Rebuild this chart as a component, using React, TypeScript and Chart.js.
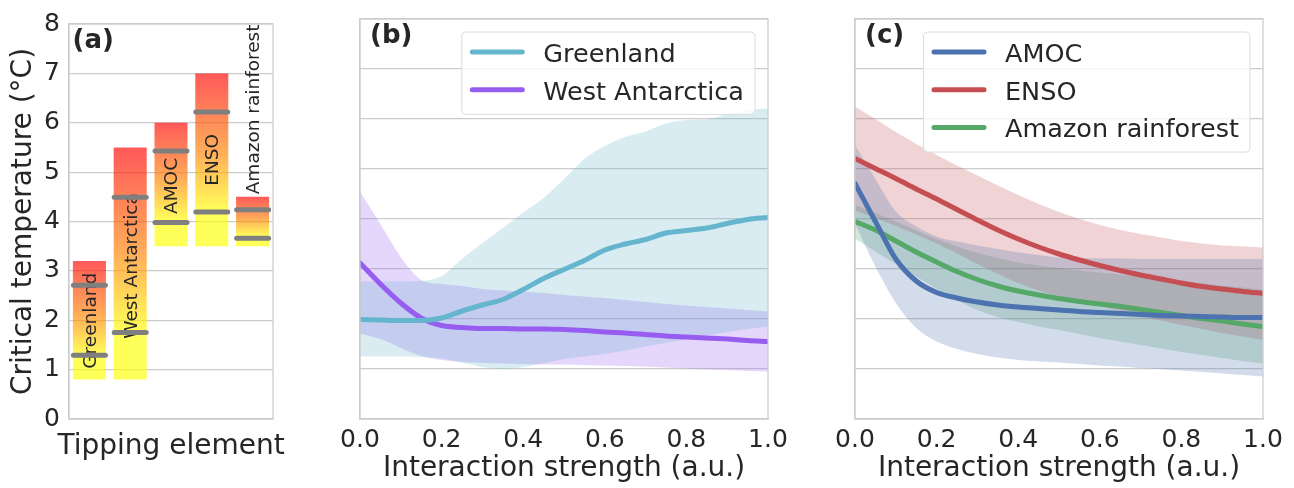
import React, { useEffect, useRef } from 'react';
import { Chart, registerables } from 'chart.js';

Chart.register(...registerables);

const FONT = "'DejaVu Sans', 'Noto Sans', sans-serif";
const TEXT = '#262626';
const GRID = '#cccccc';

// ---------------- Panel (a): critical temperature ranges ----------------
const tippingElements = ['Greenland', 'West Antarctica', 'AMOC', 'ENSO', 'Amazon rainforest'];
const rangeLow = [0.8, 0.8, 3.5, 3.5, 3.5];
const rangeHigh = [3.2, 5.5, 6.0, 7.0, 4.5];
const thresholdLow = [1.29, 1.75, 3.98, 4.19, 3.66];
const thresholdHigh = [2.71, 4.49, 5.43, 6.22, 4.24];
const namePosition = [1.99, 3.1, 4.72, 5.25, 6.27];
const panelAxisTitle = 'Tipping element';

// ---------------- Panels (b) and (c): interaction strength ----------------
const strength = [0, 0.05, 0.1, 0.15, 0.2, 0.25, 0.3, 0.35, 0.4, 0.45, 0.5, 0.55, 0.6, 0.65, 0.7, 0.75, 0.8, 0.85, 0.9, 0.95, 1.0];

const greenlandMean = [1.99, 1.98, 1.97, 1.97, 2.02, 2.16, 2.28, 2.39, 2.59, 2.81, 2.99, 3.17, 3.38, 3.5, 3.59, 3.72, 3.77, 3.82, 3.91, 3.99, 4.03];
const greenlandUpper = [2.75, 2.75, 2.75, 2.76, 2.86, 3.2, 3.52, 3.82, 4.13, 4.42, 4.8, 5.2, 5.46, 5.64, 5.75, 5.91, 5.98, 5.99, 6.1, 6.18, 6.21];
const greenlandLower = [1.25, 1.25, 1.25, 1.24, 1.21, 1.13, 1.04, 1.0, 1.04, 1.12, 1.2, 1.25, 1.3, 1.37, 1.45, 1.52, 1.6, 1.67, 1.74, 1.8, 1.85];

const westAntarcticaMean = [3.12, 2.7, 2.32, 2.02, 1.87, 1.83, 1.81, 1.81, 1.8, 1.8, 1.79, 1.77, 1.74, 1.72, 1.69, 1.66, 1.64, 1.62, 1.6, 1.57, 1.55];
const westAntarcticaUpper = [4.55, 3.9, 3.24, 2.78, 2.7, 2.66, 2.6, 2.57, 2.55, 2.52, 2.48, 2.45, 2.42, 2.38, 2.34, 2.3, 2.27, 2.24, 2.21, 2.18, 2.15];
const westAntarcticaLower = [1.71, 1.6, 1.42, 1.26, 1.18, 1.14, 1.12, 1.11, 1.1, 1.09, 1.09, 1.08, 1.07, 1.06, 1.05, 1.03, 1.01, 0.99, 0.98, 0.96, 0.95];

const amocMean = [4.71, 3.95, 3.2, 2.76, 2.53, 2.42, 2.34, 2.28, 2.24, 2.21, 2.18, 2.15, 2.13, 2.11, 2.09, 2.07, 2.06, 2.05, 2.04, 2.03, 2.03];
const amocUpper = [5.48, 4.8, 4.15, 3.85, 3.65, 3.55, 3.47, 3.4, 3.33, 3.28, 3.23, 3.22, 3.21, 3.21, 3.2, 3.2, 3.2, 3.2, 3.2, 3.2, 3.2];
const amocLower = [3.9, 3.05, 2.32, 1.82, 1.55, 1.4, 1.3, 1.23, 1.18, 1.15, 1.13, 1.1, 1.07, 1.05, 1.02, 1.0, 0.97, 0.94, 0.91, 0.88, 0.85];

const ensoMean = [5.21, 5.01, 4.81, 4.6, 4.4, 4.19, 3.98, 3.78, 3.6, 3.44, 3.3, 3.18, 3.07, 2.97, 2.88, 2.8, 2.72, 2.65, 2.6, 2.55, 2.51];
const ensoUpper = [6.25, 6.0, 5.74, 5.5, 5.28, 5.07, 4.87, 4.67, 4.48, 4.3, 4.14, 4.0, 3.88, 3.78, 3.7, 3.63, 3.56, 3.51, 3.47, 3.45, 3.43];
const ensoLower = [4.17, 4.02, 3.86, 3.69, 3.51, 3.31, 3.1, 2.9, 2.72, 2.57, 2.46, 2.36, 2.26, 2.16, 2.06, 1.97, 1.88, 1.8, 1.72, 1.65, 1.58];

const amazonMean = [3.95, 3.78, 3.56, 3.34, 3.14, 2.95, 2.79, 2.66, 2.56, 2.48, 2.41, 2.35, 2.3, 2.25, 2.19, 2.13, 2.07, 2.01, 1.96, 1.9, 1.85];
const amazonUpper = [4.28, 4.12, 3.95, 3.77, 3.6, 3.45, 3.32, 3.22, 3.13, 3.07, 3.02, 2.97, 2.93, 2.89, 2.85, 2.8, 2.76, 2.72, 2.67, 2.63, 2.59];
const amazonLower = [3.61, 3.35, 3.1, 2.85, 2.6, 2.38, 2.18, 2.04, 1.94, 1.85, 1.78, 1.7, 1.62, 1.55, 1.48, 1.41, 1.34, 1.28, 1.22, 1.16, 1.11];

const TEMP_MIN = 0;
const TEMP_MAX = 8;

// ---------------- helpers ----------------
const pts = (ys: number[]) => ys.map((y, i) => ({ x: strength[i], y }));

function band(upper: number[], lower: number[], rgb: string) {
  return [
    {
      data: pts(upper),
      fill: '+1',
      backgroundColor: `rgba(${rgb},0.25)`,
      borderColor: 'rgba(0,0,0,0)',
      borderWidth: 0,
      pointRadius: 0,
      cubicInterpolationMode: 'monotone',
      order: 2,
      isBand: true,
    },
    {
      data: pts(lower),
      fill: false,
      borderColor: 'rgba(0,0,0,0)',
      borderWidth: 0,
      pointRadius: 0,
      cubicInterpolationMode: 'monotone',
      order: 2,
      isBand: true,
    },
  ];
}

function meanLine(label: string, ys: number[], color: string) {
  return {
    label,
    data: pts(ys),
    borderColor: color,
    backgroundColor: color,
    borderWidth: 5,
    pointRadius: 0,
    fill: false,
    cubicInterpolationMode: 'monotone',
    borderCapStyle: 'round',
    borderJoinStyle: 'round',
    order: 1,
  };
}

const framePlugin = {
  id: 'frame',
  afterDatasetsDraw(chart: any) {
    const { ctx, chartArea: a } = chart;
    ctx.save();
    ctx.strokeStyle = GRID;
    ctx.lineWidth = 1.25;
    ctx.strokeRect(a.left, a.top, a.right - a.left, a.bottom - a.top);
    ctx.restore();
  },
};

function panelLabel(text: string, dx: number) {
  return {
    id: 'panelLabel',
    afterDraw(chart: any) {
      const { ctx, chartArea: a } = chart;
      ctx.save();
      ctx.font = `bold 26px ${FONT}`;
      ctx.fillStyle = TEXT;
      ctx.textAlign = 'left';
      ctx.textBaseline = 'alphabetic';
      ctx.fillText(text, a.left + dx, a.top + 24);
      ctx.restore();
    },
  };
}

// x-axis title of panel (a): wider than its axis, so Chart.js would squeeze it
const wideBottomTitle = {
  id: 'wideBottomTitle',
  afterDraw(chart: any) {
    const { ctx, chartArea: a } = chart;
    ctx.save();
    ctx.font = `28px ${FONT}`;
    ctx.fillStyle = TEXT;
    ctx.textAlign = 'center';
    ctx.textBaseline = 'alphabetic';
    ctx.fillText(panelAxisTitle, (a.left + a.right) / 2, a.bottom + 35);
    ctx.restore();
  },
};

const boxedLegend = {
  id: 'boxedLegend',
  afterDraw(chart: any) {
    const { ctx, chartArea: a } = chart;
    const items = chart.data.datasets.filter((d: any) => d.label && !d.isBand);
    ctx.save();
    ctx.font = `25.5px ${FONT}`;
    const textW = Math.max(...items.map((d: any) => ctx.measureText(d.label).width));
    const padL = 8;
    const lineLen = 55;
    const gap = 18.5;
    const padR = 11;
    const rowH = 37.7;
    const w = padL + lineLen + gap + textW + padR;
    const h = items.length * rowH + 7;
    const right = a.right - 13;
    const left = right - w;
    const top = a.top + 13;
    ctx.beginPath();
    if (ctx.roundRect) ctx.roundRect(left, top, w, h, 4);
    else ctx.rect(left, top, w, h);
    ctx.fillStyle = 'rgba(255,255,255,0.8)';
    ctx.fill();
    ctx.strokeStyle = '#dcdcdc';
    ctx.lineWidth = 1;
    ctx.stroke();
    items.forEach((d: any, i: number) => {
      const cy = top + 20 + i * rowH;
      ctx.beginPath();
      ctx.moveTo(left + padL + 2.5, cy);
      ctx.lineTo(left + padL + lineLen - 2.5, cy);
      ctx.strokeStyle = d.borderColor;
      ctx.lineWidth = 5;
      ctx.lineCap = 'round';
      ctx.stroke();
      ctx.fillStyle = TEXT;
      ctx.textAlign = 'left';
      ctx.textBaseline = 'alphabetic';
      ctx.fillText(d.label, left + padL + lineLen + gap, cy + 10);
    });
    ctx.restore();
  },
};

const barNames = {
  id: 'barNames',
  afterDatasetDraw(chart: any, args: any) {
    if (args.meta.type !== 'bar') return;
    const { ctx, scales } = chart;
    ctx.save();
    ctx.font = `18.5px ${FONT}`;
    ctx.fillStyle = TEXT;
    ctx.textAlign = 'center';
    ctx.textBaseline = 'middle';
    tippingElements.forEach((name, i) => {
      const x = scales.x.getPixelForValue(i);
      const y = scales.y.getPixelForValue(namePosition[i]);
      ctx.save();
      ctx.translate(x + 1.5, y);
      ctx.rotate(-Math.PI / 2);
      ctx.fillText(name, 0, 0);
      ctx.restore();
    });
    ctx.restore();
  },
};

const roundMarkers = {
  id: 'roundMarkers',
  beforeDatasetDraw(chart: any, args: any) {
    if (args.meta.type === 'line') chart.ctx.lineCap = 'round';
  },
  afterDatasetDraw(chart: any, args: any) {
    if (args.meta.type === 'line') chart.ctx.lineCap = 'butt';
  },
};

function gradientFill(context: any) {
  const chart = context.chart;
  const i = context.dataIndex;
  if (!chart.chartArea || i === undefined) return 'rgba(255,160,0,0.65)';
  const y = chart.scales.y;
  const yTop = y.getPixelForValue(rangeHigh[i]);
  const yBot = y.getPixelForValue(rangeLow[i]);
  const g = chart.ctx.createLinearGradient(0, yTop, 0, yBot);
  g.addColorStop(0, 'rgba(255,0,0,0.65)');
  g.addColorStop(0.45, 'rgba(255,128,0,0.65)');
  g.addColorStop(0.8, 'rgba(255,255,0,0.65)');
  g.addColorStop(1, 'rgba(255,255,0,0.65)');
  return g;
}

function tempAxis(showTicks: boolean, width: number, withTitle: boolean) {
  return {
    min: TEMP_MIN,
    max: TEMP_MAX,
    ticks: { display: showTicks, stepSize: 1, font: { size: 25, family: FONT }, color: TEXT, padding: 9 },
    grid: { color: GRID, lineWidth: 1.25, drawTicks: false },
    border: { color: GRID, width: 1.25 },
    title: {
      display: withTitle,
      text: 'Critical temperature (°C)',
      font: { size: 28, family: FONT },
      color: TEXT,
      padding: { top: 7.2, bottom: 0 },
    },
    afterFit: (s: any) => {
      s.width = width;
    },
  };
}

function strengthAxis() {
  return {
    type: 'linear',
    min: 0,
    max: 1,
    ticks: {
      stepSize: 0.2,
      autoSkip: false,
      maxRotation: 0,
      callback: (v: any) => Number(v).toFixed(1),
      font: { size: 25, family: FONT },
      color: TEXT,
      padding: 6.5,
    },
    grid: { display: false, drawTicks: false },
    border: { color: GRID, width: 1.25 },
    title: {
      display: true,
      text: 'Interaction strength (a.u.)',
      font: { size: 28, family: FONT },
      color: TEXT,
      padding: { top: 0, bottom: 2.5 },
    },
    afterFit: (s: any) => {
      s.height = 69;
    },
  };
}

const commonOptions = {
  responsive: false,
  animation: false,
  devicePixelRatio: 1,
  events: [],
};

function configA(): any {
  return {
    type: 'bar',
    data: {
      labels: tippingElements,
      datasets: [
        {
          type: 'line',
          data: thresholdHigh,
          showLine: false,
          pointStyle: 'line',
          pointRadius: 16,
          pointBorderWidth: 5,
          pointBorderColor: '#7f7f7f',
          pointBackgroundColor: '#7f7f7f',
          order: 1,
        },
        {
          type: 'line',
          data: thresholdLow,
          showLine: false,
          pointStyle: 'line',
          pointRadius: 16,
          pointBorderWidth: 5,
          pointBorderColor: '#7f7f7f',
          pointBackgroundColor: '#7f7f7f',
          order: 1,
        },
        {
          type: 'bar',
          data: tippingElements.map((_, i) => [rangeLow[i], rangeHigh[i]]),
          backgroundColor: gradientFill,
          borderWidth: 0,
          barPercentage: 1,
          categoryPercentage: 0.81,
          order: 2,
        },
      ],
    },
    options: {
      ...commonOptions,
      layout: { padding: { left: 0, top: 19, right: 37, bottom: 0 } },
      plugins: { legend: { display: false }, tooltip: { enabled: false } },
      scales: {
        x: {
          type: 'category',
          grid: { display: false, drawTicks: false },
          border: { color: GRID, width: 1.25 },
          ticks: { display: false },
          title: { display: false },
          afterFit: (s: any) => {
            s.height = 69;
          },
        },
        y: tempAxis(true, 69, true),
      },
    },
    plugins: [barNames, roundMarkers, framePlugin, wideBottomTitle, panelLabel('(a)', 3.5)],
  };
}

function configB(): any {
  return {
    type: 'line',
    data: {
      datasets: [
        meanLine('Greenland', greenlandMean, '#64b5cd'),
        meanLine('West Antarctica', westAntarcticaMean, '#975cf0'),
        ...band(greenlandUpper, greenlandLower, '100,181,205'),
        ...band(westAntarcticaUpper, westAntarcticaLower, '151,92,240'),
      ],
    },
    options: {
      ...commonOptions,
      layout: { padding: { left: 0, top: 19, right: 32, bottom: 0 } },
      plugins: { legend: { display: false }, tooltip: { enabled: false } },
      scales: {
        x: strengthAxis(),
        y: tempAxis(false, 50, false),
      },
    },
    plugins: [framePlugin, boxedLegend, panelLabel('(b)', 10)],
  };
}

function configC(): any {
  return {
    type: 'line',
    data: {
      datasets: [
        meanLine('AMOC', amocMean, '#4c72b0'),
        meanLine('ENSO', ensoMean, '#c44e52'),
        meanLine('Amazon rainforest', amazonMean, '#55a868'),
        ...band(amocUpper, amocLower, '76,114,176'),
        ...band(ensoUpper, ensoLower, '196,78,82'),
        ...band(amazonUpper, amazonLower, '85,168,104'),
      ],
    },
    options: {
      ...commonOptions,
      layout: { padding: { left: 0, top: 19, right: 31, bottom: 0 } },
      plugins: { legend: { display: false }, tooltip: { enabled: false } },
      scales: {
        x: strengthAxis(),
        y: tempAxis(false, 55, false),
      },
    },
    plugins: [framePlugin, boxedLegend, panelLabel('(c)', 10)],
  };
}

export default function App() {
  const refA = useRef<HTMLCanvasElement>(null);
  const refB = useRef<HTMLCanvasElement>(null);
  const refC = useRef<HTMLCanvasElement>(null);

  useEffect(() => {
    Chart.defaults.font.family = FONT;
    Chart.defaults.color = TEXT;
    const charts = [
      new Chart(refA.current as HTMLCanvasElement, configA()),
      new Chart(refB.current as HTMLCanvasElement, configB()),
      new Chart(refC.current as HTMLCanvasElement, configC()),
    ];
    return () => charts.forEach((c) => c.destroy());
  }, []);

  return (
    <div style={{ position: 'absolute', left: 0, top: 0, width: 1294, height: 488, background: '#ffffff' }}>
      <canvas ref={refA} width={310} height={488} style={{ position: 'absolute', left: 0, top: 0 }} />
      <canvas ref={refB} width={490} height={488} style={{ position: 'absolute', left: 310, top: 0 }} />
      <canvas ref={refC} width={494} height={488} style={{ position: 'absolute', left: 800, top: 0 }} />
    </div>
  );
}
